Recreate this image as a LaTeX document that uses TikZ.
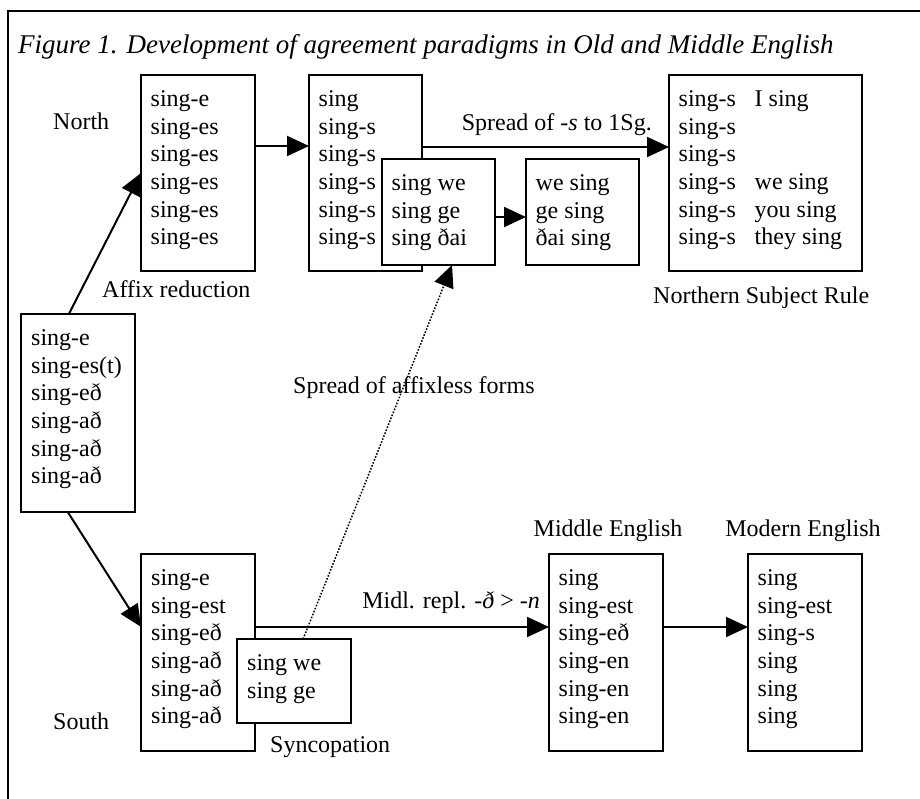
\documentclass[tikz,border=0pt]{standalone}
\usepackage{fontspec}
\setmainfont{Liberation Serif}
\usetikzlibrary{arrows.meta,calc}
% strut that fixes the height of the first line of each paradigm
\newcommand\firstln{\rule{0pt}{20pt}}
% two-column row of the Northern Subject Rule panel
\newcommand\nsrrow[2]{\makebox[76pt][l]{#1}#2}
\begin{document}
\begin{tikzpicture}[x=1pt,y=-1pt,
  panel/.style={draw, line width=2pt, fill=white, anchor=north west,
    inner sep=0pt, outer sep=0pt},
  forms/.style={anchor=north west, inner sep=0pt, align=left,
    font=\fontsize{24pt}{27.6pt}\selectfont},
  lbl/.style={inner sep=0pt, font=\fontsize{24pt}{27.6pt}\selectfont},
  link/.style={line width=2pt, -{Triangle[length=22pt,width=20pt]}},
  spread/.style={line width=1.5pt, dash pattern=on 1.6pt off 1.6pt,
    -{Triangle[length=22pt,width=20pt]}}
]
\useasboundingbox (0,0) rectangle (920,798);

% frame
\draw[line width=2.5pt] (940,11) -- (8,11) -- (8,820);

% caption
\node[lbl, anchor=base west, font=\fontsize{27pt}{30pt}\selectfont] (title) at (18,53)
  {\itshape Figure 1. Development of agreement paradigms in Old and Middle English};

% ---- northern branch ----
\node[lbl, anchor=base west] (north) at (53,129) {North};

\node[panel, minimum width=114pt, minimum height=196pt] (n1) at (141,75) {};
\node[forms] (n1t) at ([shift={(9.5,11.5)}]n1.north west)
  {\firstln sing-e\\sing-es\\sing-es\\sing-es\\sing-es\\sing-es};
\node[lbl, anchor=base west] (affix) at (102,297) {Affix reduction};

\node[panel, minimum width=113pt, minimum height=196pt] (n2) at (309,75) {};
\node[forms] (n2t) at ([shift={(9.5,11.5)}]n2.north west)
  {\firstln sing\\sing-s\\sing-s\\sing-s\\sing-s\\sing-s};

\node[panel, minimum width=113pt, minimum height=106pt] (n2b) at (382,159) {};
\node[forms] (n2bt) at ([shift={(9.5,11.5)}]n2b.north west)
  {\firstln sing we\\sing ge\\sing ðai};

\node[panel, minimum width=113pt, minimum height=106pt] (n3) at (526,159) {};
\node[forms] (n3t) at ([shift={(9.5,11.5)}]n3.north west)
  {\firstln we sing\\ge sing\\ðai sing};

\node[panel, minimum width=193pt, minimum height=196pt] (nsr) at (669,75) {};
\node[forms] (nsrt) at ([shift={(9.5,11.5)}]nsr.north west)
  {\firstln\nsrrow{sing-s}{I sing}\\sing-s\\sing-s\\
   \nsrrow{sing-s}{we sing}\\\nsrrow{sing-s}{you sing}\\\nsrrow{sing-s}{they sing}};
\node[lbl, anchor=base west] (nsrl) at (653,303) {Northern Subject Rule};

\node[lbl, anchor=base east] (spreads) at (652,130) {Spread of \textit{-s} to 1Sg.};

% ---- Old English ----
\node[panel, minimum width=114pt, minimum height=198pt] (oe) at (21,314) {};
\node[forms] (oet) at ([shift={(10,11.5)}]oe.north west)
  {\firstln sing-e\\sing-es(t)\\sing-eð\\sing-að\\sing-að\\sing-að};

\node[lbl, anchor=base west] (spreadl) at (293,393) {Spread of affixless forms};

% ---- southern branch ----
\node[lbl, anchor=base west] (south) at (53,729) {South};

\node[panel, minimum width=114pt, minimum height=197pt] (s1) at (141,554) {};
\node[forms] (s1t) at ([shift={(10,11.5)}]s1.north west)
  {\firstln sing-e\\sing-est\\sing-eð\\sing-að\\sing-að\\sing-að};

\node[panel, minimum width=114pt, minimum height=84pt] (s2) at (237,639) {};
\node[forms] (s2t) at ([shift={(10,11.5)}]s2.north west)
  {\firstln sing we\\sing ge};
\node[lbl, anchor=base west] (sync) at (270,752) {Syncopation};

\node[lbl, anchor=base east] (midl) at (540,608)
  {Midl. repl. -\textit{ð} > -\textit{n}};

\node[lbl, anchor=base] (mel) at (608,536) {Middle English};
\node[panel, minimum width=114pt, minimum height=197pt] (me) at (549,554) {};
\node[forms] (met) at ([shift={(9.5,11.5)}]me.north west)
  {\firstln sing\\sing-est\\sing-eð\\sing-en\\sing-en\\sing-en};

\node[lbl, anchor=base] (model) at (803,536) {Modern English};
\node[panel, minimum width=114pt, minimum height=197pt] (mode) at (748,554) {};
\node[forms] (modet) at ([shift={(9.5,11.5)}]mode.north west)
  {\firstln sing\\sing-est\\sing-s\\sing\\sing\\sing};

% ---- connectors ----
\draw[link] ([yshift=27pt]n1.east) -- ([yshift=27pt]n2.west);
\draw[link] ([yshift=26pt]n2.east) -- ([yshift=26pt]nsr.west);
\draw[link] ([yshift=-5pt]n2b.east) -- ([yshift=-5pt]n3.west);
\draw[link] ($(oe.north west)!0.42!(oe.north east)$) -- (n1.west);
\draw[link] ($(oe.south west)!0.41!(oe.south east)$)
  -- ($(s1.north west)!0.37!(s1.south west)$);
\draw[link] ([yshift=25.5pt]s1.east) -- ([yshift=25.5pt]me.west);
\draw[link] ([yshift=25.5pt]me.east) -- ([yshift=25.5pt]mode.west);
\draw[spread] ($(s2.north west)!0.58!(s2.north east)$)
  -- ($(n2b.south west)!0.62!(n2b.south east)$);
\end{tikzpicture}
\end{document}
